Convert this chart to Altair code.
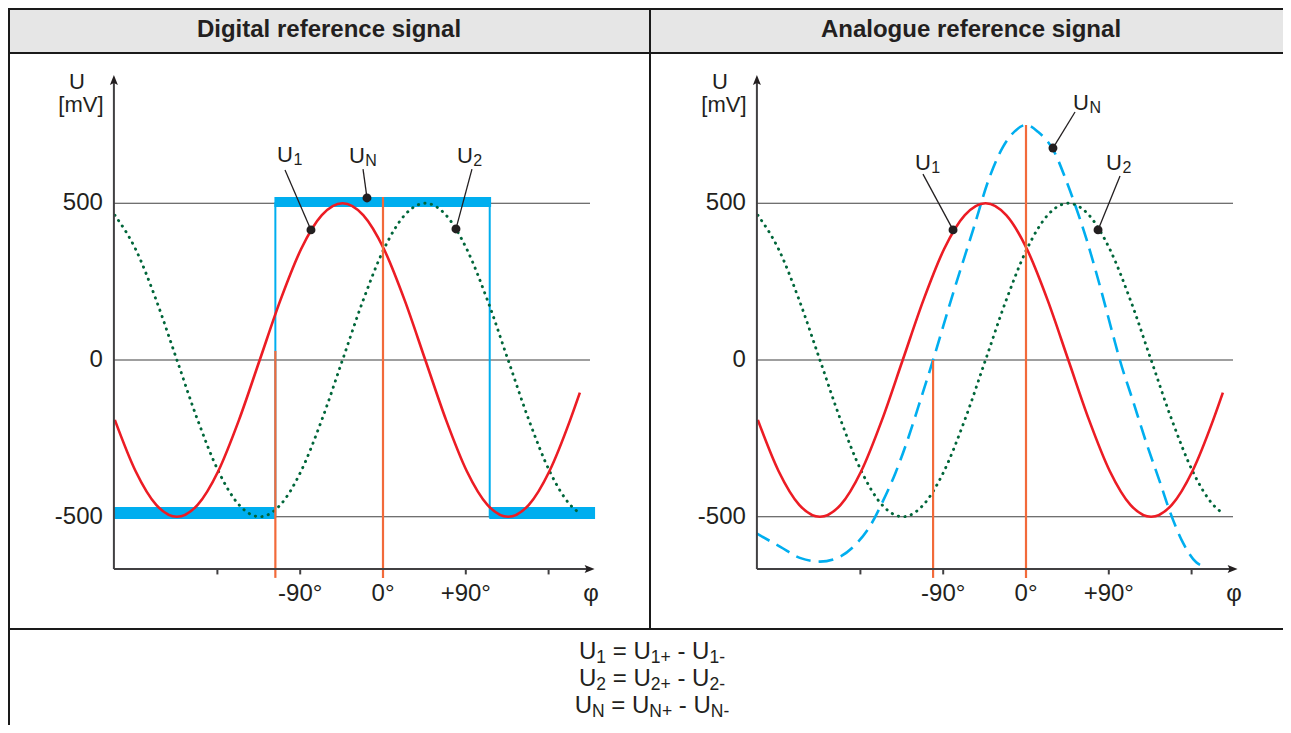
import altair as alt
import pandas as pd

# ---------------- values ----------------
# phase samples (degrees) shared by U1 and U2
phi = [-291.5, -269, -246.5, -224, -201.5, -179, -156.5, -134, -111.5, -89,
       -66.5, -44, -21.5, 1, 23.5, 46, 68.5, 91, 113.5, 136, 158.5, 181,
       203.5, 214]
u1_mv = [-191, -354, -462, -500, -462, -354, -191, 0, 191, 354, 462, 500,
         462, 354, 191, 0, -191, -354, -462, -500, -462, -354, -191, -104]
u2_mv = [462, 354, 191, 0, -191, -354, -462, -500, -462, -354, -191, 0,
         191, 354, 462, 500, 462, 354, 191, 0, -191, -354, -462, -489]

# digital reference signal U_N (outline and thick levels)
dig_phi = [-292.5, -117, -117, 116, 116, 230]
dig_mv = [-500, -500, 500, 500, -500, -500]
dig_level_from = [-292.5, -118, 115.5]
dig_level_to = [-116.5, 117.5, 230.5]
dig_level_lo = [-507, 488, -507]
dig_level_hi = [-469, 520, -469]

# analogue reference signal U_N
ana_phi = [-293, -267, -245, -224, -202, -184, -170, -155, -142, -130, -117,
           -101, -79, -57, -40, -25, -12, 0, 13, 30, 44, 53, 66, 80, 95, 102,
           116, 131, 146, 156, 171, 185, 196]
ana_mv = [-553, -596, -632, -643, -627, -585, -532, -447, -361, -266, -149,
          0, 215, 420, 580, 680, 730, 750, 728, 668, 570, 498, 383, 240, 75, 0,
          -128, -266, -393, -480, -585, -645, -660]

grid_mv = [-500, 0, 500]
grid_text = ["-500", "0", "500"]
tick_phi = [-180, -90, 90, 180]
xlab_phi = [-90, 0, 90]
xlab_text = ["-90°", "0°", "+90°"]

marker_phi = {"digital": [-117, 0], "analogue": [-101, 0]}
marker_top = {"digital": [29, 520], "analogue": [0, 750]}
MARKER_BOTTOM = -695
AXIS_MV = -667
AXIS_LEFT = -292.5
AXIS_RIGHT = 230
YAXIS_TOP = 909
GRID_RIGHT = 225

ann_sub = ["1", "N", "2"]
ann_dot = {"digital": [(-78.3, 415), (-17.4, 517), (79.3, 418)],
           "analogue": [(-79.3, 415), (29.3, 676), (78.3, 415)]}
ann_lead = {"digital": [(-106.5, 606), (-21.7, 609), (96.7, 609)],
            "analogue": [(-112, 593), (53.3, 791), (102.2, 587)]}
ann_label = {"digital": [(-115.2, 632), (-37, 628), (80.4, 628)],
             "analogue": [(-120.7, 606), (51.1, 797), (87, 606)]}

PANELS = ["digital", "analogue"]
TITLES = ["Digital reference signal", "Analogue reference signal"]
FORMULA_SUBS = ["1", "2", "N"]

# ---------------- layout ----------------
W, H = 1275, 717
PX_DEG = 0.92
PX_MV = 0.3135
X0 = -375.0 / PX_DEG
X1 = X0 + W / PX_DEG
Y1 = 352.0 / PX_MV
Y0 = Y1 - H / PX_MV
OFFSET = {"digital": 0.0, "analogue": 643.0 / PX_DEG}

FONT = "Liberation Sans"
INK = "#231f20"
RED = "#ec1c24"
GREEN = "#00663a"
BLUE = "#00aeef"
ORANGE = "#f26a3a"
AXIS = "#414042"


def gx(page_x):
    return X0 + (page_x - 8) / PX_DEG


def my(page_y):
    return Y1 - (page_y - 8) / PX_MV


xs = alt.Scale(domain=[X0, X1], nice=False, zero=False)
ys = alt.Scale(domain=[Y0, Y1], nice=False, zero=False)
X = lambda f="g": alt.X(f"{f}:Q", scale=xs, axis=None)
Y = lambda f="mv": alt.Y(f"{f}:Q", scale=ys, axis=None)


def series(panel, xv, yv):
    return [{"panel": panel, "i": k, "g": a + OFFSET[panel], "mv": b}
            for k, (a, b) in enumerate(zip(xv, yv))]


layers = []

# header background and table borders
hdr = pd.DataFrame([{"g": gx(8), "g2": gx(1283), "mv": my(8), "mv2": my(53)}])
layers.append(alt.Chart(hdr).mark_rect(color="#e6e6e6").encode(
    x=X(), x2="g2", y=Y(), y2="mv2"))
borders = pd.DataFrame([
    {"g": gx(8), "g2": gx(1283), "mv": my(9), "mv2": my(9)},
    {"g": gx(8), "g2": gx(1283), "mv": my(53), "mv2": my(53)},
    {"g": gx(8), "g2": gx(1283), "mv": my(629), "mv2": my(629)},
    {"g": gx(9), "g2": gx(9), "mv": my(8), "mv2": my(725)},
    {"g": gx(650), "g2": gx(650), "mv": my(8), "mv2": my(629)},
])
layers.append(alt.Chart(borders).mark_rule(color="#1a1a1a", strokeWidth=2).encode(
    x=X(), x2="g2", y=Y(), y2="mv2"))

# gridlines
grid = pd.DataFrame([{"g": AXIS_LEFT + OFFSET[p], "g2": GRID_RIGHT + OFFSET[p], "mv": v}
                     for p in PANELS for v in grid_mv])
layers.append(alt.Chart(grid).mark_rule(color="#404040", strokeWidth=1.2).encode(
    x=X(), x2="g2", y=Y()))

# digital U_N
dig = pd.DataFrame(series("digital", dig_phi, dig_mv))
layers.append(alt.Chart(dig).mark_line(color=BLUE, strokeWidth=2).encode(
    x=X(), y=Y(), order="i:Q"))
lev = pd.DataFrame([{"g": a, "g2": b, "mv": lo, "mv2": hi} for a, b, lo, hi in
                    zip(dig_level_from, dig_level_to, dig_level_lo, dig_level_hi)])
layers.append(alt.Chart(lev).mark_rect(color=BLUE).encode(
    x=X(), x2="g2", y=Y(), y2="mv2"))

# analogue U_N
ana = pd.DataFrame(series("analogue", ana_phi, ana_mv))
layers.append(alt.Chart(ana).mark_line(color=BLUE, strokeWidth=2.6, strokeDash=[15, 8],
                                       interpolate="monotone").encode(
    x=X(), y=Y(), order="i:Q"))

# U2 (dotted) and U1 (solid)
u2 = pd.DataFrame(sum([series(p, phi, u2_mv) for p in PANELS], []))
layers.append(alt.Chart(u2).mark_line(color=GREEN, strokeWidth=2.9, strokeDash=[0.3, 6.3],
                                      strokeCap="round", interpolate="monotone").encode(
    x=X(), y=Y(), detail="panel:N", order="i:Q"))
u1 = pd.DataFrame(sum([series(p, phi, u1_mv) for p in PANELS], []))
layers.append(alt.Chart(u1).mark_line(color=RED, strokeWidth=2.6, interpolate="monotone").encode(
    x=X(), y=Y(), detail="panel:N", order="i:Q"))

# orange phase markers
mk = pd.DataFrame([{"g": a + OFFSET[p], "mv": t, "mv2": MARKER_BOTTOM}
                   for p in PANELS for a, t in zip(marker_phi[p], marker_top[p])])
layers.append(alt.Chart(mk).mark_rule(color=ORANGE, strokeWidth=2.2).encode(
    x=X(), y=Y(), y2="mv2"))

# axes
ax = pd.DataFrame(
    [{"g": AXIS_LEFT + OFFSET[p], "g2": AXIS_RIGHT - 8 + OFFSET[p], "mv": AXIS_MV, "mv2": AXIS_MV} for p in PANELS] +
    [{"g": AXIS_LEFT + OFFSET[p], "g2": AXIS_LEFT + OFFSET[p], "mv": AXIS_MV, "mv2": YAXIS_TOP - 25} for p in PANELS])
layers.append(alt.Chart(ax).mark_rule(color=AXIS, strokeWidth=2).encode(
    x=X(), x2="g2", y=Y(), y2="mv2"))
tk = pd.DataFrame([{"g": t + OFFSET[p], "mv": AXIS_MV, "mv2": AXIS_MV - 17}
                   for p in PANELS for t in tick_phi])
layers.append(alt.Chart(tk).mark_rule(color=AXIS, strokeWidth=2).encode(
    x=X(), y=Y(), y2="mv2"))
arr_up = pd.DataFrame([{"g": AXIS_LEFT + OFFSET[p], "mv": YAXIS_TOP - 5 / PX_MV} for p in PANELS])
layers.append(alt.Chart(arr_up).mark_point(shape="M0,-1L0.8,1L0,0.6L-0.8,1Z", size=100,
                                           filled=True, opacity=1, color=INK).encode(x=X(), y=Y()))
arr_rt = pd.DataFrame([{"g": AXIS_RIGHT - 5 / PX_DEG + OFFSET[p], "mv": AXIS_MV} for p in PANELS])
layers.append(alt.Chart(arr_rt).mark_point(shape="M1,0L-1,0.8L-0.6,0L-1,-0.8Z", size=100,
                                           filled=True, opacity=1, color=INK).encode(x=X(), y=Y()))

# annotation leaders and dots
lead = pd.DataFrame([{"g": a + OFFSET[p], "mv": b, "g2": c + OFFSET[p], "mv2": d}
                     for p in PANELS for (a, b), (c, d) in zip(ann_lead[p], ann_dot[p])])
layers.append(alt.Chart(lead).mark_rule(color=INK, strokeWidth=1.3).encode(
    x=X(), y=Y(), x2="g2", y2="mv2"))
dots = pd.DataFrame([{"g": a + OFFSET[p], "mv": b} for p in PANELS for a, b in ann_dot[p]])
layers.append(alt.Chart(dots).mark_circle(size=80, color=INK, opacity=1).encode(x=X(), y=Y()))


def text_layer(rows, size, align="center", baseline="alphabetic", dx=0, dy=0, weight="normal"):
    return alt.Chart(pd.DataFrame(rows)).mark_text(
        font=FONT, fontSize=size, align=align, baseline=baseline, dx=dx, dy=dy,
        fontWeight=weight, color=INK).encode(x=X(), y=Y(), text="text:N")


# axis texts
layers.append(text_layer([{"g": AXIS_LEFT + OFFSET[p], "mv": v, "text": t}
                          for p in PANELS for v, t in zip(grid_mv, grid_text)],
                         24, align="right", baseline="middle", dx=-11))
layers.append(text_layer([{"g": a + OFFSET[p], "mv": my(594), "text": t}
                          for p in PANELS for a, t in zip(xlab_phi, xlab_text)],
                         24, baseline="middle"))
layers.append(text_layer([{"g": 226 + OFFSET[p], "mv": my(594), "text": "φ"} for p in PANELS],
                         24, baseline="middle"))
layers.append(text_layer([{"g": AXIS_LEFT + OFFSET[p], "mv": my(89), "text": "U"} for p in PANELS],
                         22, dx=-37))
layers.append(text_layer([{"g": AXIS_LEFT + OFFSET[p], "mv": my(112), "text": "[mV]"} for p in PANELS],
                         22, dx=-33))

# curve labels U1, UN, U2
MAIN_L, SUB_L = 22, 16
layers.append(text_layer([{"g": a + OFFSET[p], "mv": b, "text": "U"}
                          for p in PANELS for a, b in ann_label[p]], MAIN_L, align="left"))
layers.append(text_layer([{"g": a + OFFSET[p], "mv": b, "text": s}
                          for p in PANELS for (a, b), s in zip(ann_label[p], ann_sub)],
                         SUB_L, align="left", dx=0.722 * MAIN_L + 0.5, dy=3))

# panel titles
layers.append(text_layer([{"g": gx(329), "mv": my(37), "text": TITLES[0]},
                          {"g": gx(971), "mv": my(37), "text": TITLES[1]}], 24, weight="bold"))

# formula block
MET = {"U": .722, "N": .722, "1": .556, "2": .556, "+": .584, "-": .333, "=": .584, " ": .278}
FM, FS = 24, 17.5
main_rows, sub_rows = [], []
for line, k in enumerate(FORMULA_SUBS):
    pieces = [("U", 0), (k, 1), (" ", 0), ("=", 0), (" ", 0), ("U", 0), (k + "+", 1),
              (" ", 0), ("-", 0), (" ", 0), ("U", 0), (k + "-", 1)]
    widths = [sum(MET[c] for c in s) * (FS if sub else FM) for s, sub in pieces]
    x = 652 - sum(widths) / 2
    base = 659 + 27 * line
    for (s, sub), w in zip(pieces, widths):
        if s.strip():
            row = {"g": gx(x), "mv": my(base + (4 if sub else 0)), "text": s}
            (sub_rows if sub else main_rows).append(row)
        x += w
layers.append(text_layer(main_rows, FM, align="left"))
layers.append(text_layer(sub_rows, FS, align="left"))

chart = alt.layer(*layers).properties(
    width=W, height=H, padding=0, autosize=alt.AutoSizeParams(type="none")
).configure_view(stroke=None)

chart.save("out.html", embed_options={"renderer": "svg", "actions": False})
